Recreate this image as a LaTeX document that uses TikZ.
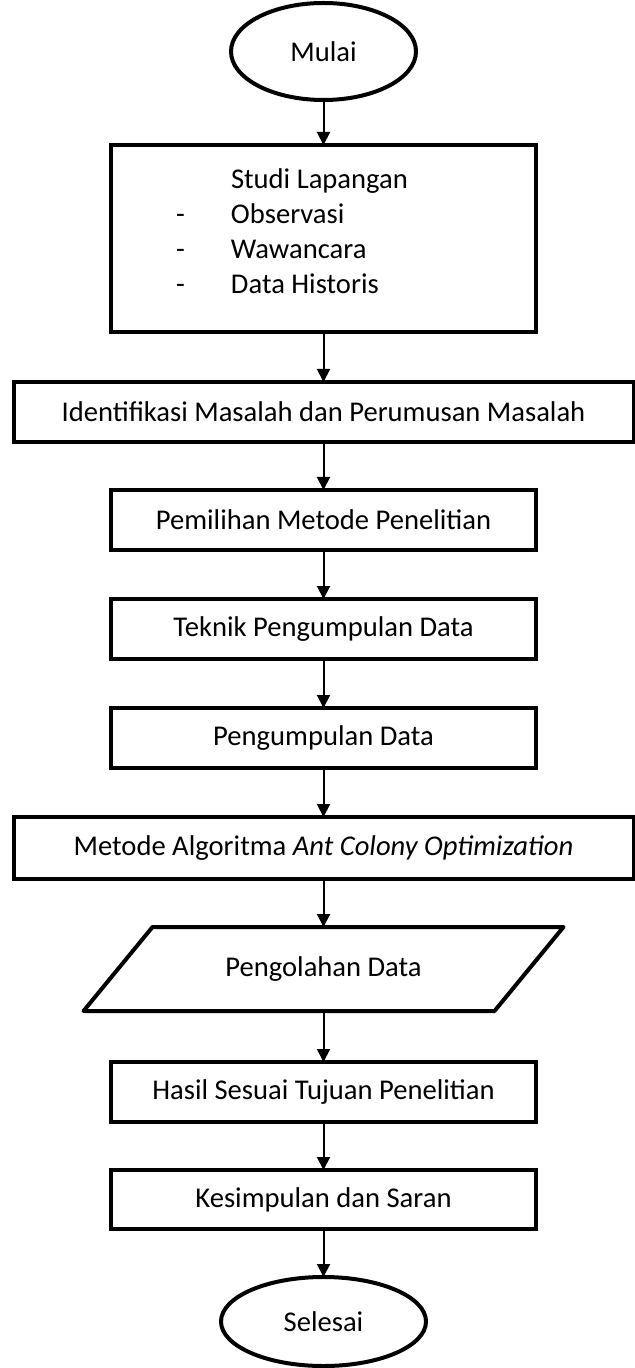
\documentclass[tikz,border=0pt]{standalone}
\usepackage{fontspec}
\setmainfont{Carlito}
\usepackage{tikz}
\usetikzlibrary{arrows.meta,positioning,calc,shapes.geometric}
\tikzset{
  kotak/.style={draw=black,line width=2pt,inner sep=0pt,outer sep=0pt,align=center,
    font=\fontsize{14.3pt}{17.5pt}\selectfont,minimum height=30pt},
  kotakkecil/.style={kotak,minimum width=212.5pt},
  kotakbesar/.style={kotak,minimum width=310pt},
  terminal/.style={kotak,ellipse,minimum width=92.5pt,minimum height=48.5pt},
  alir/.style={-{Triangle[length=6.5pt,width=6.5pt]},line width=1pt,draw=black},
  bingkai/.style={draw=black,line width=2pt,line join=round},
}
\begin{document}
\begin{tikzpicture}[node distance=24pt]
  \useasboundingbox (0,0) rectangle (317.5pt,-684pt);
  \node[terminal] (mulai) at (161.75pt,-25.75pt) {Mulai};
  \node[kotakkecil,minimum height=93.5pt,below=22.5pt of mulai] (studi) {%
    \makebox[212.5pt][l]{\hspace*{32.5pt}\begin{tabular}{@{}l@{}}
      \hspace*{27.5pt}Studi Lapangan\\
      \makebox[27.5pt][l]{-}Observasi\\
      \makebox[27.5pt][l]{-}Wawancara\\
      \makebox[27.5pt][l]{-}Data Historis\\[4pt]
    \end{tabular}}};
  \node[kotakbesar,below=25pt of studi] (identifikasi)
    {Identifikasi Masalah dan Perumusan Masalah};
  \node[kotakkecil,below=of identifikasi] (pemilihan) {Pemilihan Metode Penelitian};
  \node[kotakkecil,below=24.5pt of pemilihan] (teknik) {Teknik Pengumpulan Data};
  \node[kotakkecil,below=24.5pt of teknik] (pengumpulan) {Pengumpulan Data};
  \node[kotakbesar,minimum height=31pt,below=24.5pt of pengumpulan] (metode)
    {Metode Algoritma \textit{Ant Colony Optimization}};
  % jajaran genjang digambar di sekeliling node olah
  \node[kotak,draw=none,minimum width=205.5pt,minimum height=42pt,
    below=of metode] (olah) {Pengolahan Data};
  \draw[bingkai] ($(olah.north west)+(17.25pt,0)$) -- ($(olah.north east)+(17.25pt,0)$)
    -- ($(olah.south east)-(17.25pt,0)$) -- ($(olah.south west)-(17.25pt,0)$) -- cycle;
  \node[kotakkecil,below=25.5pt of olah] (hasil) {Hasil Sesuai Tujuan Penelitian};
  \node[kotakkecil,minimum height=29.5pt,below=of hasil] (kesimpulan) {Kesimpulan dan Saran};
  \node[terminal,minimum width=102.5pt,minimum height=44.5pt,below=of kesimpulan] (selesai) {Selesai};
  \foreach \a/\b in {mulai/studi,studi/identifikasi,identifikasi/pemilihan,
      pemilihan/teknik,teknik/pengumpulan,pengumpulan/metode,metode/olah,
      olah/hasil,hasil/kesimpulan,kesimpulan/selesai}
    \draw[alir] (\a) -- (\b);
\end{tikzpicture}
\end{document}
